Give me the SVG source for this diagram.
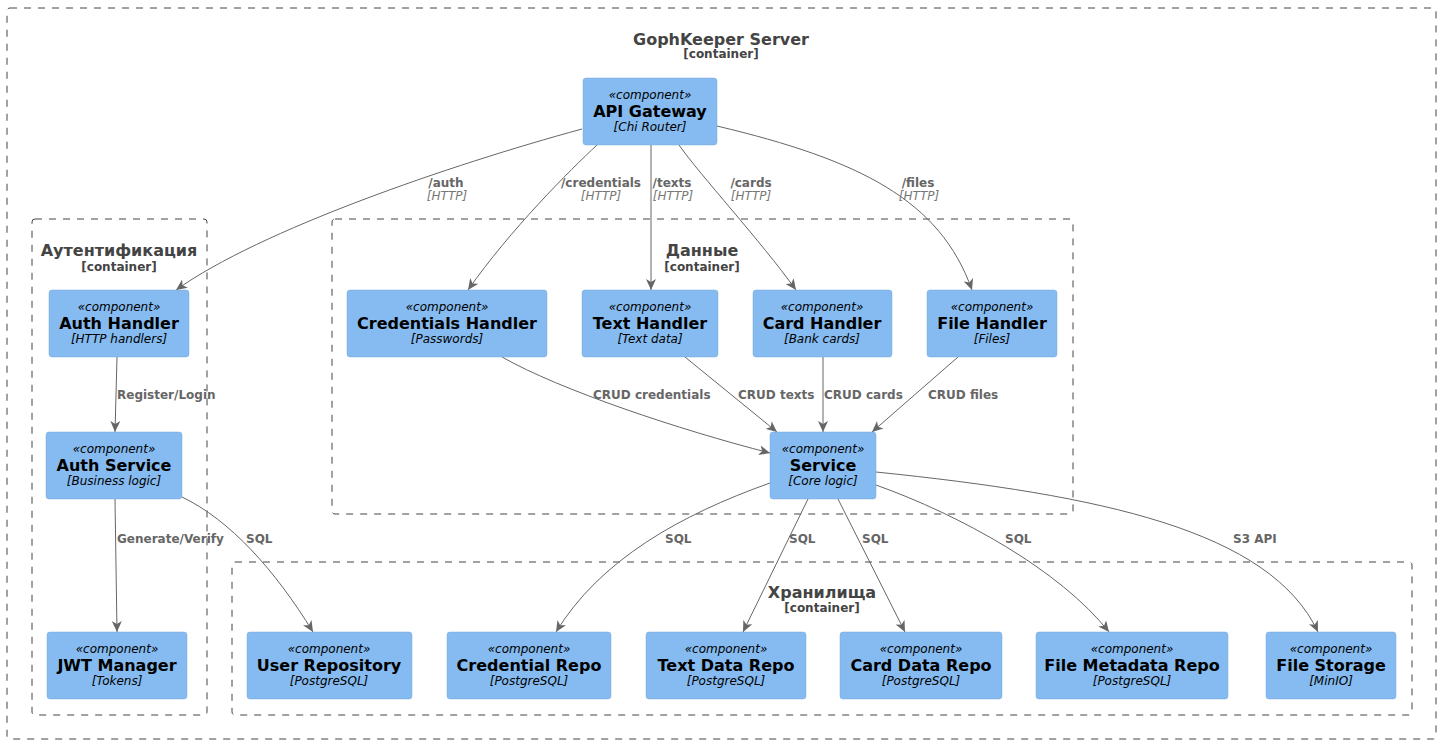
<svg xmlns="http://www.w3.org/2000/svg" width="1441" height="744" viewBox="0 0 1441 744">
<defs>
<marker id="arr" markerWidth="12" markerHeight="10" refX="11" refY="5" orient="auto" markerUnits="userSpaceOnUse">
<path d="M0,0 L11,5 L0,10 L3,5 Z" fill="#666666"/>
</marker>
<style>
text{font-family:"DejaVu Sans","Liberation Sans",sans-serif}
.cont{fill:none;stroke:#444444;stroke-width:1;stroke-dasharray:7,7}
.ct{font-size:16px;font-weight:bold;fill:#444444;text-anchor:middle}
.cs{font-size:12px;font-weight:bold;fill:#444444;text-anchor:middle}
.box{fill:#85BBF0;stroke:#78A8D8;stroke-width:0.5}
.st{font-size:12px;font-style:italic;fill:#000000;text-anchor:middle}
.nm{font-size:16px;font-weight:bold;fill:#000000;text-anchor:middle}
.tc{font-size:12px;font-style:italic;fill:#000000;text-anchor:middle}
.e{fill:none;stroke:#666666;stroke-width:1;marker-end:url(#arr)}
.el{font-size:12px;font-weight:bold;fill:#666666}
.eh{font-size:12px;font-style:italic;fill:#777777}
.m{text-anchor:middle}
</style>
</defs>

<g id="container-server">
<rect class="cont" x="7" y="8" width="1429" height="731" rx="3"/>
<text class="ct" x="721" y="45">GophKeeper Server</text>
<text class="cs" x="721" y="58">[container]</text>
</g>
<g id="container-auth">
<rect class="cont" x="32" y="219" width="175" height="496" rx="3"/>
<text class="ct" x="119" y="256">Аутентификация</text>
<text class="cs" x="119" y="271">[container]</text>
</g>
<g id="container-data">
<rect class="cont" x="332" y="219" width="741" height="295" rx="3"/>
<text class="ct" x="702" y="256">Данные</text>
<text class="cs" x="702" y="271">[container]</text>
</g>
<g id="container-storage">
<rect class="cont" x="232" y="562" width="1180" height="153" rx="3"/>
<text class="ct" x="822" y="598">Хранилища</text>
<text class="cs" x="822" y="612">[container]</text>
</g>

<g id="connectors">
<path class="e" d="M582,129 C450,165 260,230 176,290"/>
<path class="e" d="M597,145 C570,170 510,230 468,290"/>
<path class="e" d="M651,145 L651,290"/>
<path class="e" d="M679,145 C700,175 760,240 796,290"/>
<path class="e" d="M717,126 C860,160 940,200 972,290"/>
<path class="e" d="M117,357 L115,432"/>
<path class="e" d="M115,499 L117,632"/>
<path class="e" d="M182,497 C230,520 275,570 313,632"/>
<path class="e" d="M502,357 C560,390 680,430 770,453"/>
<path class="e" d="M685,357 L777,432"/>
<path class="e" d="M823,357 L823,432"/>
<path class="e" d="M958,357 L872,432"/>
<path class="e" d="M770,483 C680,515 600,560 556,632"/>
<path class="e" d="M808,499 L743,632"/>
<path class="e" d="M838,499 L905,632"/>
<path class="e" d="M876,485 C960,515 1060,570 1109,632"/>
<path class="e" d="M876,472 C1100,495 1270,530 1318,632"/>

<text class="el m" x="446" y="187">/auth</text>
<text class="eh m" x="447" y="200">[HTTP]</text>
<text class="el m" x="601" y="187">/credentials</text>
<text class="eh m" x="601" y="200">[HTTP]</text>
<text class="el m" x="672" y="187">/texts</text>
<text class="eh m" x="673" y="200">[HTTP]</text>
<text class="el m" x="751" y="187">/cards</text>
<text class="eh m" x="751" y="200">[HTTP]</text>
<text class="el m" x="918" y="187">/files</text>
<text class="eh m" x="919" y="200">[HTTP]</text>

<text class="el" x="117" y="399">Register/Login</text>
<text class="el" x="593" y="399">CRUD credentials</text>
<text class="el" x="738" y="399">CRUD texts</text>
<text class="el" x="824" y="399">CRUD cards</text>
<text class="el" x="928" y="399">CRUD files</text>
<text class="el" x="117" y="543">Generate/Verify</text>
<text class="el" x="246" y="543">SQL</text>
<text class="el" x="665" y="543">SQL</text>
<text class="el" x="789" y="543">SQL</text>
<text class="el" x="862" y="543">SQL</text>
<text class="el" x="1005" y="543">SQL</text>
<text class="el" x="1233" y="543">S3 API</text>
</g>

<g id="api-gateway">
<rect class="box" x="583" y="78" width="134" height="67" rx="3"/>
<text class="st" x="650" y="99">«component»</text>
<text class="nm" x="650" y="117">API Gateway</text>
<text class="tc" x="650" y="131">[Chi Router]</text>
</g>
<g id="auth-handler">
<rect class="box" x="49" y="290" width="140" height="67" rx="3"/>
<text class="st" x="119" y="311">«component»</text>
<text class="nm" x="119" y="329">Auth Handler</text>
<text class="tc" x="119" y="343">[HTTP handlers]</text>
</g>
<g id="auth-service">
<rect class="box" x="46" y="432" width="136" height="67" rx="3"/>
<text class="st" x="114" y="453">«component»</text>
<text class="nm" x="114" y="471">Auth Service</text>
<text class="tc" x="114" y="485">[Business logic]</text>
</g>
<g id="jwt-manager">
<rect class="box" x="47" y="632" width="140" height="67" rx="3"/>
<text class="st" x="117" y="653">«component»</text>
<text class="nm" x="117" y="671">JWT Manager</text>
<text class="tc" x="117" y="685">[Tokens]</text>
</g>
<g id="credentials-handler">
<rect class="box" x="347" y="290" width="200" height="67" rx="3"/>
<text class="st" x="447" y="311">«component»</text>
<text class="nm" x="447" y="329">Credentials Handler</text>
<text class="tc" x="447" y="343">[Passwords]</text>
</g>
<g id="text-handler">
<rect class="box" x="582" y="290" width="136" height="67" rx="3"/>
<text class="st" x="650" y="311">«component»</text>
<text class="nm" x="650" y="329">Text Handler</text>
<text class="tc" x="650" y="343">[Text data]</text>
</g>
<g id="card-handler">
<rect class="box" x="753" y="290" width="139" height="67" rx="3"/>
<text class="st" x="822" y="311">«component»</text>
<text class="nm" x="822" y="329">Card Handler</text>
<text class="tc" x="822" y="343">[Bank cards]</text>
</g>
<g id="file-handler">
<rect class="box" x="927" y="290" width="130" height="67" rx="3"/>
<text class="st" x="992" y="311">«component»</text>
<text class="nm" x="992" y="329">File Handler</text>
<text class="tc" x="992" y="343">[Files]</text>
</g>
<g id="service">
<rect class="box" x="770" y="432" width="106" height="67" rx="3"/>
<text class="st" x="823" y="453">«component»</text>
<text class="nm" x="823" y="471">Service</text>
<text class="tc" x="823" y="485">[Core logic]</text>
</g>
<g id="user-repository">
<rect class="box" x="247" y="632" width="165" height="67" rx="3"/>
<text class="st" x="329" y="653">«component»</text>
<text class="nm" x="329" y="671">User Repository</text>
<text class="tc" x="329" y="685">[PostgreSQL]</text>
</g>
<g id="credential-repo">
<rect class="box" x="447" y="632" width="164" height="67" rx="3"/>
<text class="st" x="529" y="653">«component»</text>
<text class="nm" x="529" y="671">Credential Repo</text>
<text class="tc" x="529" y="685">[PostgreSQL]</text>
</g>
<g id="text-data-repo">
<rect class="box" x="646" y="632" width="160" height="67" rx="3"/>
<text class="st" x="726" y="653">«component»</text>
<text class="nm" x="726" y="671">Text Data Repo</text>
<text class="tc" x="726" y="685">[PostgreSQL]</text>
</g>
<g id="card-data-repo">
<rect class="box" x="840" y="632" width="162" height="67" rx="3"/>
<text class="st" x="921" y="653">«component»</text>
<text class="nm" x="921" y="671">Card Data Repo</text>
<text class="tc" x="921" y="685">[PostgreSQL]</text>
</g>
<g id="file-metadata-repo">
<rect class="box" x="1036" y="632" width="192" height="67" rx="3"/>
<text class="st" x="1132" y="653">«component»</text>
<text class="nm" x="1132" y="671">File Metadata Repo</text>
<text class="tc" x="1132" y="685">[PostgreSQL]</text>
</g>
<g id="file-storage">
<rect class="box" x="1266" y="632" width="130" height="67" rx="3"/>
<text class="st" x="1331" y="653">«component»</text>
<text class="nm" x="1331" y="671">File Storage</text>
<text class="tc" x="1331" y="685">[MinIO]</text>
</g>
</svg>
